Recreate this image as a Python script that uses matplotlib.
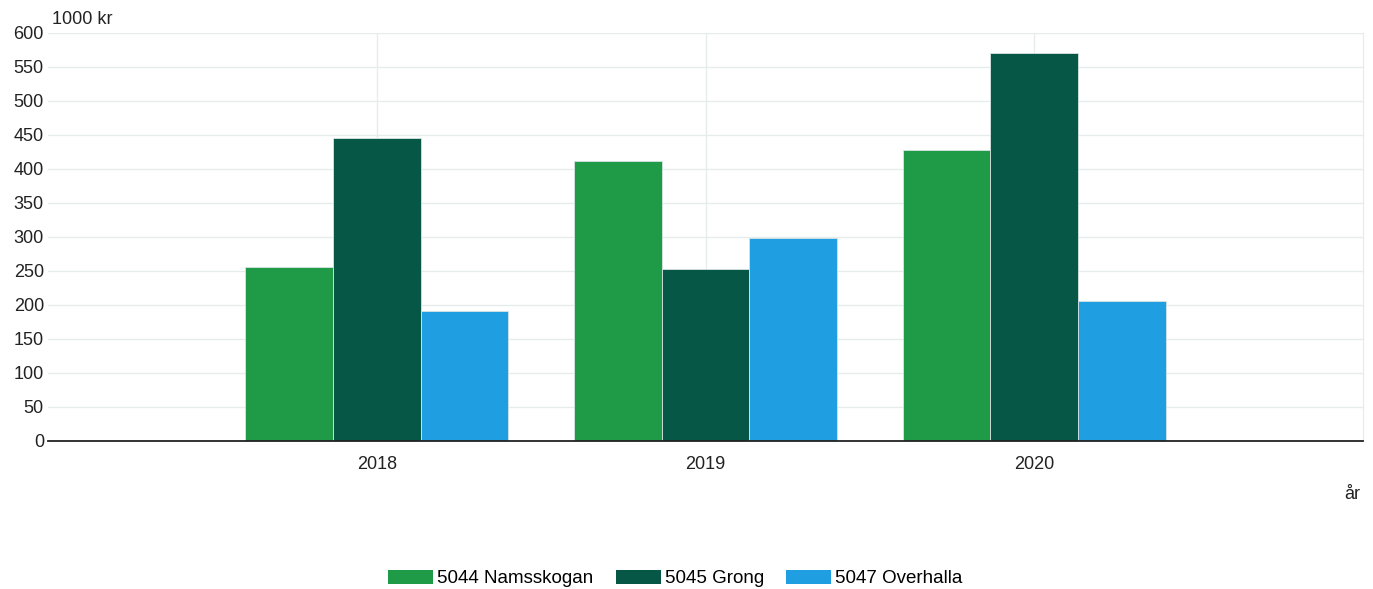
import numpy as np
import matplotlib.pyplot as plt
from matplotlib.patches import Patch

plt.rcParams['font.family'] = ['Liberation Sans', 'DejaVu Sans']

years = ['2018', '2019', '2020']
namsskogan = [256, 412, 428]
grong = [446, 253, 571]
overhalla = [191, 299, 206]

series = [('5044 Namsskogan', namsskogan, '#1f9b48'),
          ('5045 Grong', grong, '#075746'),
          ('5047 Overhalla', overhalla, '#1f9fe2')]

fig = plt.figure(figsize=(13.73, 5.89), dpi=100)
ax = fig.add_axes([0.035, 0.2513, 0.9577, 0.6927])

ind = np.arange(len(years))
width = 0.267
for i, (name, vals, col) in enumerate(series):
    ax.bar(ind + (i - 1) * width, vals, width, color=col, edgecolor='#d8e4e4', linewidth=0.6, zorder=3)

ax.set_xlim(-1, 3)
ax.set_ylim(0, 600)
ax.set_yticks(np.arange(0, 601, 50))
ax.set_xticks(ind)
ax.set_xticklabels(years)
ax.tick_params(axis='both', length=0, labelsize=13, colors='#222222')
ax.tick_params(axis='x', pad=11)
ax.tick_params(axis='y', pad=3)
ax.grid(True, color='#e6ecec', linewidth=1, zorder=0)

for side in ['top', 'left']:
    ax.spines[side].set_visible(False)
ax.spines['right'].set_color('#e6ecec')
ax.spines['bottom'].set_color('#222222')
ax.spines['bottom'].set_linewidth(1.3)
ax.spines['bottom'].set_zorder(4)

fig.text(0.038, 0.967, '1000 kr', fontsize=13, color='#222222', ha='left', va='center')
fig.text(0.991, 0.16, 'år', fontsize=13, color='#222222', ha='right', va='center')

handles = [Patch(facecolor=c, label=n) for n, v, c in series]
fig.legend(handles=handles, loc='center', bbox_to_anchor=(0.492, 0.018), ncol=3, frameon=False,
           fontsize=13.5, handlelength=2.4, handleheight=0.8, columnspacing=1.2, handletextpad=0.2)

fig.savefig('out.png', dpi=100, facecolor='white')
